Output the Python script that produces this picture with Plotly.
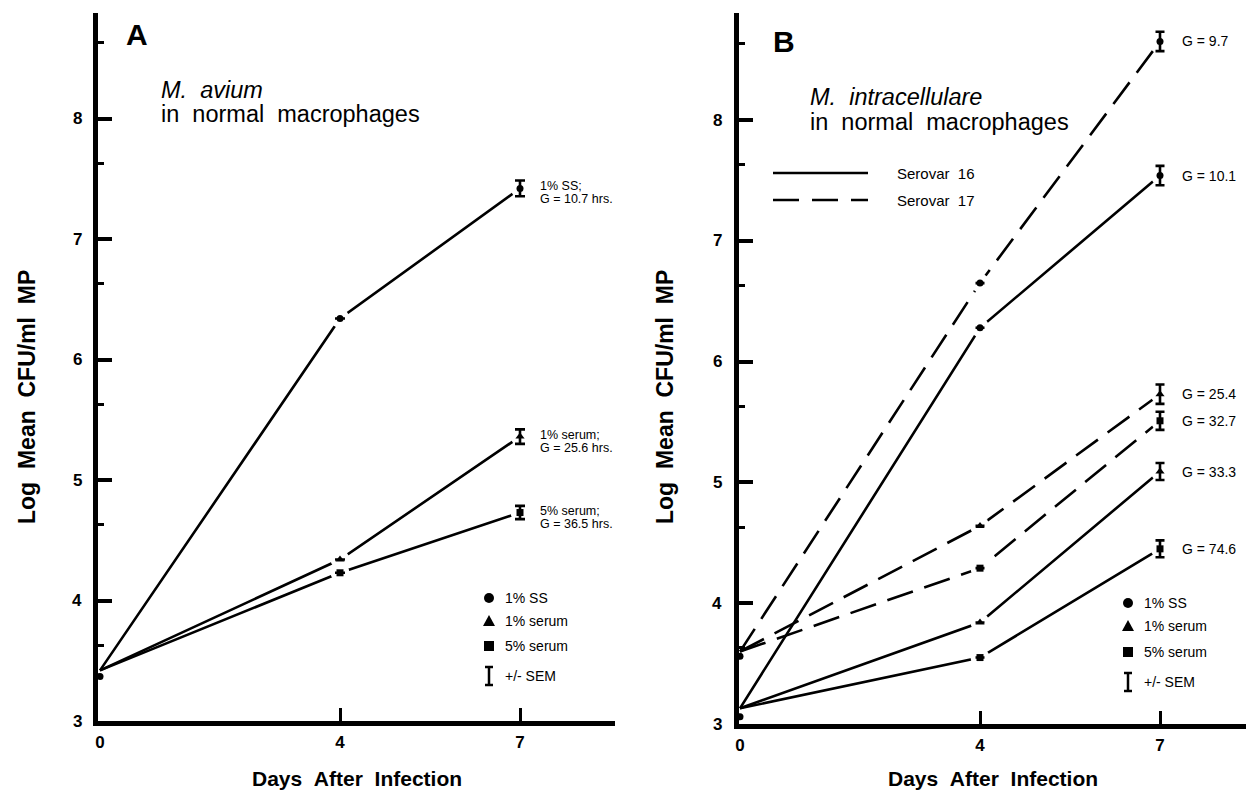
import plotly.graph_objects as go

# ---------------- data ----------------
days = [0, 4, 7]
tick_days = [0, 4, 7]
y_ticks = [3, 4, 5, 6, 7, 8]
y_minor = [3.63, 4.63, 5.63, 6.63, 7.63, 8.63]

# Panel A: M. avium
a_ss = [3.42, 6.34, 7.42]
a_serum1 = [3.42, 4.34, 5.36]
a_serum5 = [3.42, 4.23, 4.73]
a_sem = [0.065, 0.06, 0.055]          # SEM at day 7 (ss, 1% serum, 5% serum)
a_inoculum = 3.37
a_labels = [["1% SS;", "G = 10.7 hrs."],
            ["1% serum;", "G = 25.6 hrs."],
            ["5% serum;", "G = 36.5 hrs."]]

# Panel B: M. intracellulare, serovar 16 (solid) and 17 (dashed)
b16_ss = [3.13, 6.28, 7.54]
b16_serum1 = [3.13, 3.84, 5.09]
b16_serum5 = [3.13, 3.55, 4.45]
b16_sem = [0.08, 0.07, 0.07]
b16_inoculum = 3.06
b16_labels = ["G = 10.1", "G = 33.3", "G = 74.6"]

b17_ss = [3.60, 6.65, 8.65]
b17_serum1 = [3.60, 4.64, 5.73]
b17_serum5 = [3.60, 4.29, 5.51]
b17_sem = [0.08, 0.08, 0.075]
b17_inoculum = 3.56
b17_labels = ["G = 9.7", "G = 25.4", "G = 32.7"]

legend_items = ["1% SS", "1% serum", "5% serum", "+/- SEM"]
serovar_items = ["Serovar  16", "Serovar  17"]

# ---------------- layout helpers ----------------
W, H = 1246, 792
FONT = "Liberation Sans, Arial, Helvetica, sans-serif"
NB = "\u00a0"


def px(x):
    return x / W


def py(y):
    return 1 - y / H


fig = go.Figure()

SYMBOLS = ["circle", "triangle-up", "square"]
MSIZE = [7, 8, 7]
LW = 2.6
DASH = "27px,12px"


def add_line(xa, ya, vals, dash):
    fig.add_trace(go.Scatter(x=days, y=vals, xaxis=xa, yaxis=ya, mode="lines",
                             line=dict(color="black", width=LW, dash=dash),
                             hoverinfo="skip", showlegend=False))


def add_halo(xa, ya, vals):
    # white halo that breaks the line around each plotted point
    fig.add_trace(go.Scatter(x=days[1:], y=vals[1:], xaxis=xa, yaxis=ya, mode="markers",
                             marker=dict(color="white", size=19, opacity=1, line=dict(width=0)),
                             hoverinfo="skip", showlegend=False))


def add_points(xa, ya, vals, sem, sym, msize, cap):
    fig.add_trace(go.Scatter(x=days[1:], y=vals[1:], xaxis=xa, yaxis=ya, mode="markers",
                             marker=dict(color="black", symbol=sym, size=msize,
                                         line=dict(width=0)),
                             error_y=dict(type="data", array=[None, sem], visible=True,
                                          color="black", thickness=2.6, width=cap),
                             hoverinfo="skip", showlegend=False))


series_a = [(a_ss, a_sem[0]), (a_serum1, a_sem[1]), (a_serum5, a_sem[2])]
series_b = [(b16_ss, b16_sem[0]), (b16_serum1, b16_sem[1]), (b16_serum5, b16_sem[2])]
series_c = [(b17_ss, b17_sem[0]), (b17_serum1, b17_sem[1]), (b17_serum5, b17_sem[2])]

groups = [("x", "y", series_a, "solid", 5),
          ("x2", "y2", series_b, "solid", 4.5),
          ("x2", "y2", series_c, DASH, 4.5)]

for xa, ya, ser, dash, cap in groups:
    for vals, sem in ser:
        add_line(xa, ya, vals, dash)
for xa, ya, ser, dash, cap in groups:
    for vals, sem in ser:
        add_halo(xa, ya, vals)
for xa, ya, ser, dash, cap in groups:
    for i, (vals, sem) in enumerate(ser):
        add_points(xa, ya, vals, sem, SYMBOLS[i], MSIZE[i], cap)

# inoculum points at day 0
fig.add_trace(go.Scatter(x=[days[0]], y=[a_inoculum], xaxis="x", yaxis="y", mode="markers",
                         marker=dict(color="black", size=7), hoverinfo="skip", showlegend=False))
fig.add_trace(go.Scatter(x=[days[0], days[0]], y=[b16_inoculum, b17_inoculum], xaxis="x2",
                         yaxis="y2", mode="markers", marker=dict(color="black", size=7),
                         hoverinfo="skip", showlegend=False))

# ---------------- axes ----------------
tickfont = dict(family=FONT, size=17, color="black", weight="bold")


def xaxis_cfg(dom, rng, anchor):
    return dict(domain=dom, range=rng, anchor=anchor, showgrid=False, zeroline=False,
                automargin=False, showline=True, linewidth=5, linecolor="black",
                tickmode="array", tickvals=tick_days, ticktext=[str(d) for d in tick_days],
                ticks="", tickfont=tickfont, ticklabelstandoff=2, ticklabelposition="outside",
                minor=dict(tickmode="array", tickvals=tick_days[1:], ticks="inside",
                           ticklen=13, tickwidth=3, tickcolor="black", showgrid=False))


def yaxis_cfg(dom, rng, anchor):
    return dict(domain=dom, range=rng, anchor=anchor, side="left", showgrid=False,
                zeroline=False, automargin=False, showline=True, linewidth=5,
                linecolor="black", tickmode="array", tickvals=y_ticks,
                ticks="inside", ticklen=14, tickwidth=3.5, tickcolor="black",
                showticklabels=False,
                minor=dict(tickmode="array", tickvals=y_minor, ticks="inside",
                           ticklen=6, tickwidth=2.5, tickcolor="black", showgrid=False))


fig.update_layout(
    xaxis=xaxis_cfg([px(98), px(615)], [(98 - 100) / 60, (615 - 100) / 60], "y"),
    yaxis=yaxis_cfg([py(721), py(13)], [3, 3 + (721 - 13) / 120.5], "x"),
    xaxis2=xaxis_cfg([px(739), px(1246)], [(739 - 740) / 60, (1246 - 740) / 60], "y2"),
    yaxis2=yaxis_cfg([py(724), py(13)], [3, 3 + (724 - 13) / 120.8], "x2"),
)

# ---------------- text ----------------
ann = []


def text(x, y, s, size, xanchor="left", weight="normal", **kw):
    d = dict(x=x, y=y, xref="paper", yref="paper", text=s, showarrow=False,
             xanchor=xanchor, yanchor="middle",
             font=dict(family=FONT, size=size, color="black", weight=weight))
    d.update(kw)
    ann.append(d)


# y tick labels, placed on each axis scale just left of the axis line
for xlab, yr in [(84, "y"), (724, "y2")]:
    for v in y_ticks:
        ann.append(dict(x=px(xlab), y=v, xref="paper", yref=yr, text=str(v), showarrow=False,
                        xanchor="right", yanchor="middle", font=tickfont))

# panel letters and headings
text(px(124), py(34), "A", 30, weight="bold")
text(px(771), py(41), "B", 30, weight="bold")
text(px(159), py(90), "<i>M." + NB + NB + "avium</i>", 23.5)
text(px(159), py(114), "in" + NB + NB + "normal" + NB + NB + "macrophages", 23.5)
text(px(808), py(97), "<i>M." + NB + NB + "intracellulare</i>", 23.5)
text(px(808), py(122), "in" + NB + NB + "normal" + NB + NB + "macrophages", 23.5)

# axis titles
xt = "Days" + NB + NB + "After" + NB + NB + "Infection"
yt = "Log" + NB + NB + "Mean" + NB + NB + "CFU/ml" + NB + NB + "MP"
for xr, yr, xc in [("x domain", "y domain", 27), ("x2 domain", "y2 domain", 665)]:
    ann.append(dict(x=0.5, y=py(778), xref=xr, yref="paper", text=xt, showarrow=False,
                    xanchor="center", yanchor="middle",
                    font=dict(family=FONT, size=21, color="black", weight="bold")))
    ann.append(dict(x=px(xc), y=py(397), xref="paper", yref="paper", text=yt, showarrow=False,
                    textangle=-90, xanchor="center", yanchor="middle",
                    font=dict(family=FONT, size=23, color="black", weight="bold")))

# growth labels next to day-7 points
for (vals, _), lab in zip(series_a, a_labels):
    for s, ys in zip(lab, [2, -11]):
        ann.append(dict(x=days[2], y=vals[2], xref="x", yref="y", text=s,
                        showarrow=False, xanchor="left", yanchor="middle", xshift=18,
                        yshift=ys, font=dict(family=FONT, size=12.5, color="black")))
for ser, labs in [(series_b, b16_labels), (series_c, b17_labels)]:
    for (vals, _), s in zip(ser, labs):
        ann.append(dict(x=days[2], y=vals[2], xref="x2", yref="y2", text=s,
                        showarrow=False, xanchor="left", yanchor="middle", xshift=20,
                        font=dict(family=FONT, size=14, color="black")))

# ---------------- legends (symbol keys drawn as shapes) ----------------
shapes = []


def legend_block(xs, xtxt, ys):
    r = 5
    cx, cy = xs, ys[0]
    shapes.append(dict(type="circle", xref="paper", yref="paper", x0=px(cx - r), x1=px(cx + r),
                       y0=py(cy + r), y1=py(cy - r), fillcolor="black", line=dict(width=0)))
    cy = ys[1]
    shapes.append(dict(type="path", xref="paper", yref="paper",
                       path=f"M {px(cx - 6)} {py(cy + 5)} L {px(cx + 6)} {py(cy + 5)} "
                            f"L {px(cx)} {py(cy - 6)} Z",
                       fillcolor="black", line=dict(width=0)))
    cy = ys[2]
    shapes.append(dict(type="rect", xref="paper", yref="paper", x0=px(cx - 5), x1=px(cx + 5),
                       y0=py(cy + 5), y1=py(cy - 5), fillcolor="black", line=dict(width=0)))
    cy = ys[3]
    for seg in [(cx, cy - 9, cx, cy + 9), (cx - 4, cy - 9, cx + 4, cy - 9),
                (cx - 4, cy + 9, cx + 4, cy + 9)]:
        shapes.append(dict(type="line", xref="paper", yref="paper", x0=px(seg[0]), y0=py(seg[1]),
                           x1=px(seg[2]), y1=py(seg[3]), line=dict(color="black", width=2.5)))
    for lab, yy in zip(legend_items, ys):
        text(px(xtxt), py(yy), lab, 14)


legend_block(489, 503, [598, 621, 646, 676])
legend_block(1128, 1142, [603, 626, 652, 682])

# serovar line-style key
for (yy, dash), lab in zip([(173, "solid"), (200, "26px,13px")], serovar_items):
    shapes.append(dict(type="line", xref="paper", yref="paper", x0=px(773), x1=px(868),
                       y0=py(yy), y1=py(yy), line=dict(color="black", width=2.6, dash=dash)))
    text(px(895), py(yy), lab.replace("  ", NB + " "), 15)

fig.update_layout(width=W, height=H, margin=dict(l=0, r=0, t=0, b=0, autoexpand=False),
                  paper_bgcolor="white", plot_bgcolor="white",
                  annotations=ann, shapes=shapes, showlegend=False)

fig.write_html("out.html", config={"displayModeBar": False},
               post_script="document.body.style.margin='0px';"
                           "document.body.style.overflow='hidden';")
